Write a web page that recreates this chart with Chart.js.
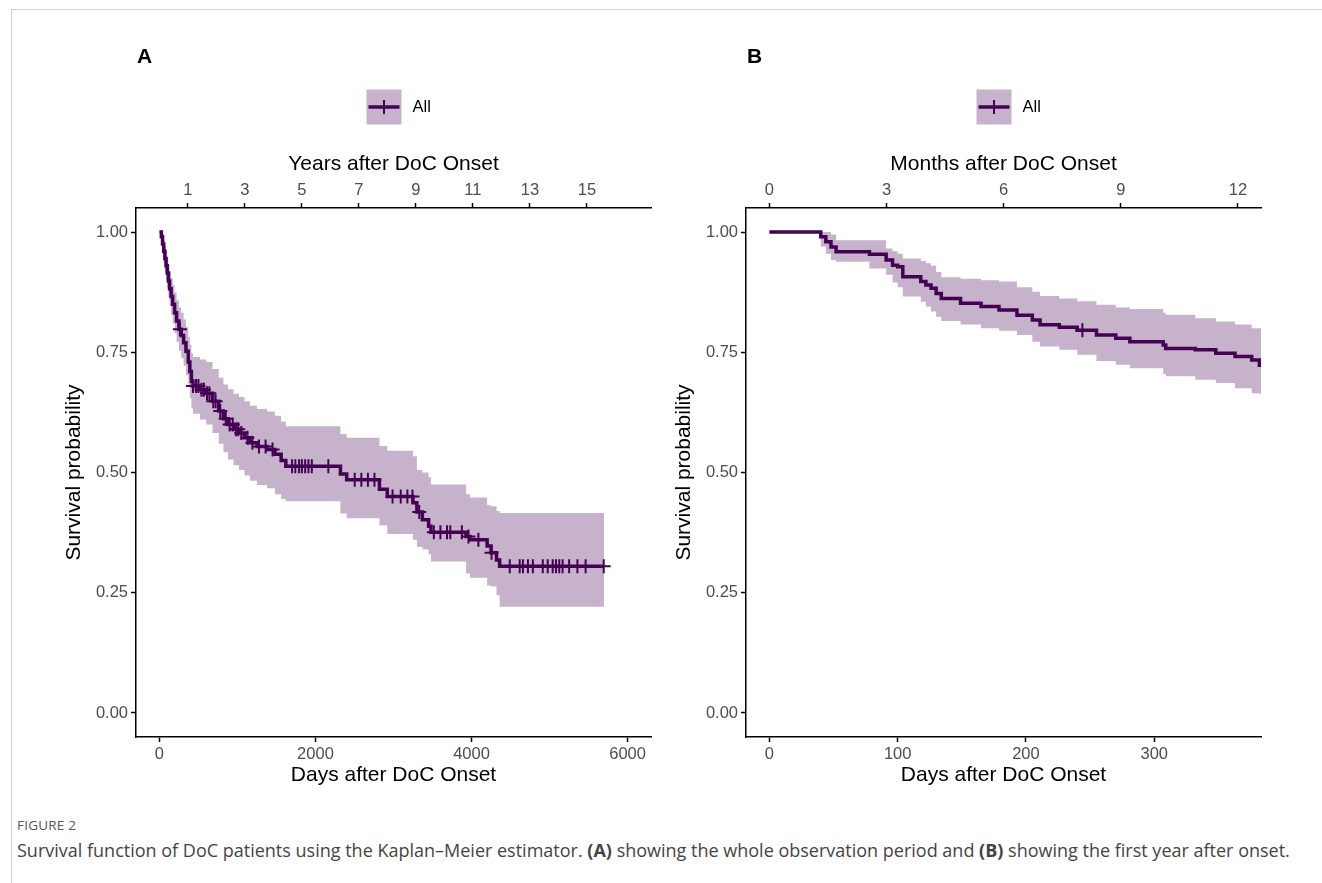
<!DOCTYPE html>
<html>
<head>
<meta charset="utf-8">
<script src="https://cdn.jsdelivr.net/npm/chart.js@4.4.1/dist/chart.umd.min.js"></script>
<style>
  body { margin: 0; background: #fff; width: 1322px; height: 883px; overflow: hidden; position: relative; }
  #frame { position: absolute; left: 11px; top: 9px; right: 0; bottom: 0; border-left: 1px solid #cfcfcf; border-top: 1px solid #cfcfcf; }
  canvas { position: absolute; top: 0; }
  #chartA { left: 0; }
  #chartB { left: 610px; }
  .tag { position: absolute; top: 44px; font: bold 21px "Liberation Sans", Arial, sans-serif; color: #000; }
  #figNo { position: absolute; left: 17px; top: 816px; font: 13.5px "Open Sans", sans-serif; color: #555; letter-spacing: 0.2px; }
  #caption { position: absolute; left: 17px; top: 838px; font: 18px "Open Sans", sans-serif; color: #444; white-space: nowrap; }
</style>
</head>
<body>
<div id="frame"></div>
<canvas id="chartA" width="660" height="800"></canvas>
<canvas id="chartB" width="660" height="800"></canvas>
<div class="tag" style="left:137px">A</div>
<div class="tag" style="left:747px">B</div>
<div id="figNo">FIGURE 2</div>
<div id="caption">Survival function of DoC patients using the Kaplan–Meier estimator. <b>(A)</b> showing the whole observation period and <b>(B)</b> showing the first year after onset.</div>
<script>
// Panel A: whole observation period (days)
const timesA = [0, 25, 40, 55, 70, 85, 100, 115, 130, 150, 170, 195, 220, 250, 280, 310, 340, 370, 390, 410,
  430, 520, 600, 680, 760, 820, 880, 950, 1020, 1090, 1160, 1250, 1380, 1480, 1560, 1620, 2320, 2400, 2820, 2920,
  3250, 3300, 3370, 3450, 3480, 3930, 3980, 4200, 4250, 4320, 4360, 5700];
const survA = [1.0, 0.99, 0.975, 0.96, 0.945, 0.93, 0.915, 0.898, 0.882, 0.866, 0.85, 0.832, 0.815, 0.798, 0.785, 0.77, 0.752, 0.73, 0.71, 0.69,
  0.68, 0.672, 0.665, 0.648, 0.628, 0.612, 0.6, 0.59, 0.582, 0.572, 0.562, 0.554, 0.548, 0.538, 0.525, 0.513, 0.497, 0.485, 0.465, 0.45,
  0.437, 0.418, 0.402, 0.388, 0.376, 0.367, 0.36, 0.347, 0.333, 0.318, 0.305, 0.305];
const lowerA = [1.0, 0.975, 0.955, 0.935, 0.918, 0.9, 0.883, 0.864, 0.846, 0.828, 0.81, 0.79, 0.772, 0.753, 0.738, 0.722, 0.702, 0.678, 0.655, 0.633,
  0.622, 0.61, 0.6, 0.582, 0.56, 0.542, 0.527, 0.515, 0.505, 0.494, 0.483, 0.474, 0.467, 0.455, 0.445, 0.44, 0.415, 0.405, 0.39, 0.372,
  0.36, 0.345, 0.34, 0.33, 0.315, 0.29, 0.281, 0.265, 0.263, 0.245, 0.221, 0.221];
const upperA = [1.0, 1.0, 0.995, 0.985, 0.972, 0.96, 0.947, 0.932, 0.918, 0.904, 0.89, 0.874, 0.858, 0.843, 0.832, 0.818, 0.802, 0.782, 0.765, 0.748,
  0.74, 0.735, 0.73, 0.715, 0.697, 0.683, 0.673, 0.664, 0.657, 0.648, 0.639, 0.632, 0.627, 0.618, 0.606, 0.596, 0.58, 0.572, 0.555, 0.545,
  0.534, 0.505, 0.5, 0.49, 0.475, 0.455, 0.448, 0.432, 0.43, 0.42, 0.416, 0.416];
const censorA = [262, 430, 470, 500, 540, 570, 610, 640, 690, 720, 780, 850, 900, 940, 980, 1010, 1050, 1128, 1192, 1276,
  1361, 1450, 1700, 1742, 1790, 1826, 1868, 1910, 1953, 2165, 2503, 2588, 2672, 2756, 2988, 3093, 3178, 3243, 3330, 3517,
  3601, 3686, 3728, 3876, 3961, 4088, 4256, 4490, 4617, 4659, 4723, 4786, 4913, 4976, 5040, 5082, 5124, 5167, 5251, 5357,
  5462, 5694];
const dayTicksA = [0, 2000, 4000, 6000];
const yearTicksA = [1, 3, 5, 7, 9, 11, 13, 15];

// Panel B: first year (days)
const timesB = [0, 40, 44, 48, 52, 78, 91, 96, 100, 104, 118, 122, 126, 130, 134, 149, 165, 179, 193, 205,
  211, 226, 240, 255, 270, 281, 307, 309, 332, 348, 363, 376, 382, 383.25];
const survB = [1.0, 0.99, 0.98, 0.969, 0.959, 0.954, 0.942, 0.931, 0.928, 0.907, 0.897, 0.89, 0.883, 0.872, 0.862, 0.852, 0.845, 0.838, 0.827, 0.817,
  0.807, 0.802, 0.796, 0.786, 0.779, 0.772, 0.765, 0.758, 0.755, 0.748, 0.741, 0.734, 0.723, 0.723];
const lowerB = [1.0, 0.97, 0.955, 0.942, 0.938, 0.924, 0.911, 0.895, 0.885, 0.866, 0.855, 0.845, 0.835, 0.824, 0.815, 0.808, 0.8, 0.795, 0.786, 0.772,
  0.762, 0.755, 0.745, 0.732, 0.724, 0.717, 0.705, 0.7, 0.693, 0.686, 0.675, 0.665, 0.664, 0.664];
const upperB = [1.0, 1.0, 1.0, 0.995, 0.983, 0.983, 0.966, 0.96, 0.955, 0.945, 0.94, 0.935, 0.93, 0.917, 0.906, 0.903, 0.9, 0.897, 0.885, 0.876,
  0.867, 0.862, 0.856, 0.849, 0.843, 0.84, 0.832, 0.828, 0.821, 0.814, 0.808, 0.8, 0.8, 0.8];
const censorB = [244];
const dayTicksB = [0, 100, 200, 300];
const monthTicksB = [0, 3, 6, 9, 12];

const survTicks = [0, 0.25, 0.5, 0.75, 1];

const LINE = "#440154";
const BAND = "rgba(68, 1, 84, 0.3)";
const FONT = '"Liberation Sans", Arial, sans-serif';

// value of the step curve at time t
function survAt(times, surv, t) {
  let s = surv[0];
  for (let i = 0; i < times.length; i++) {
    if (times[i] <= t) s = surv[i];
  }
  return s;
}

// swatch + "All" centred above the panel
const kmLegend = {
  id: "kmLegend",
  afterDraw(chart, args, opts) {
    const { ctx, chartArea } = chart;
    const cx = (chartArea.left + chartArea.right) / 2;
    const y = opts.y;
    const x0 = cx - 27;
    ctx.save();
    ctx.fillStyle = BAND;
    ctx.fillRect(x0, y - 17.5, 35, 35);
    ctx.strokeStyle = LINE;
    ctx.lineWidth = 3.5;
    ctx.beginPath();
    ctx.moveTo(x0 + 2, y);
    ctx.lineTo(x0 + 33, y);
    ctx.stroke();
    ctx.lineWidth = 2;
    ctx.beginPath();
    ctx.moveTo(x0 + 17.5, y - 7);
    ctx.lineTo(x0 + 17.5, y + 7);
    ctx.stroke();
    ctx.fillStyle = "#000";
    ctx.font = "16.5px " + FONT;
    ctx.textBaseline = "middle";
    ctx.fillText("All", x0 + 46, y);
    ctx.restore();
  },
};

function axisStyle() {
  return {
    grid: { display: true, drawOnChartArea: false, drawTicks: true, tickLength: 5, tickColor: "#000", tickWidth: 1.5, color: "#000" },
    border: { display: true, color: "#000", width: 1.5 },
  };
}

function createPanel(canvasId, p) {
  const toPts = (vals) => p.times.map((t, i) => ({ x: t, y: vals[i] }));
  const cens = p.censor.map((t) => ({ x: t, y: survAt(p.times, p.surv, t) }));
  const tickFont = { size: 16.5, family: FONT };
  const titleFont = { size: 21, family: FONT };

  return new Chart(document.getElementById(canvasId), {
    type: "line",
    data: {
      datasets: [
        { data: cens, showLine: false, pointStyle: "cross", pointRadius: 7, pointBorderWidth: 2,
          pointBorderColor: LINE, borderColor: LINE, backgroundColor: LINE },
        { data: toPts(p.surv), stepped: "before", borderColor: LINE, borderWidth: 3.5, pointRadius: 0, fill: false },
        { data: toPts(p.upper), stepped: "before", borderColor: "transparent", borderWidth: 0, pointRadius: 0,
          fill: "+1", backgroundColor: BAND },
        { data: toPts(p.lower), stepped: "before", borderColor: "transparent", borderWidth: 0, pointRadius: 0, fill: false },
      ],
    },
    options: {
      responsive: false,
      animation: false,
      layout: { padding: { left: 0, right: 3, top: 140, bottom: 0 } },
      plugins: { legend: { display: false }, tooltip: { enabled: false }, kmLegend: { y: 107 } },
      scales: {
        x: {
          type: "linear", position: "bottom", min: p.xMin, max: p.xMax,
          afterBuildTicks: (s) => { s.ticks = p.dayTicks.map((v) => ({ value: v })); },
          afterFit: (s) => { s.height = 63; },
          ticks: { color: "#4d4d4d", font: tickFont, padding: 3, maxRotation: 0, autoSkip: false, callback: (v) => String(v) },
          title: { display: true, text: "Days after DoC Onset", color: "#000", font: titleFont, padding: { top: 0, bottom: 12 } },
          ...axisStyle(),
        },
        x2: {
          type: "linear", position: "top", min: p.xMin, max: p.xMax,
          afterBuildTicks: (s) => { s.ticks = p.topTicks.map((v) => ({ value: v * p.topUnit })); },
          afterFit: (s) => { s.height = 68; },
          ticks: { color: "#4d4d4d", font: tickFont, padding: 3, maxRotation: 0, autoSkip: false,
            callback: (v, i) => String(p.topTicks[i]) },
          title: { display: true, text: p.topTitle, color: "#000", font: titleFont, padding: { top: 12, bottom: 0 } },
          ...axisStyle(),
        },
        y: {
          min: -0.05, max: 1.05,
          afterBuildTicks: (s) => { s.ticks = survTicks.map((v) => ({ value: v })); },
          afterFit: (s) => { s.width = 136; },
          ticks: { color: "#4d4d4d", font: tickFont, padding: 3, callback: (v) => Number(v).toFixed(2) },
          title: { display: true, text: "Survival probability", color: "#000", font: titleFont, padding: { top: 62, bottom: 0 } },
          ...axisStyle(),
        },
      },
    },
    plugins: [kmLegend],
  });
}

createPanel("chartA", {
  times: timesA, surv: survA, lower: lowerA, upper: upperA, censor: censorA,
  xMin: -300, xMax: 6300, dayTicks: dayTicksA,
  topTicks: yearTicksA, topUnit: 365.25, topTitle: "Years after DoC Onset",
});

createPanel("chartB", {
  times: timesB, surv: survB, lower: lowerB, upper: upperB, censor: censorB,
  xMin: -18.25, xMax: 383.25, dayTicks: dayTicksB,
  topTicks: monthTicksB, topUnit: 365.25 / 12, topTitle: "Months after DoC Onset",
});
</script>
</body>
</html>
